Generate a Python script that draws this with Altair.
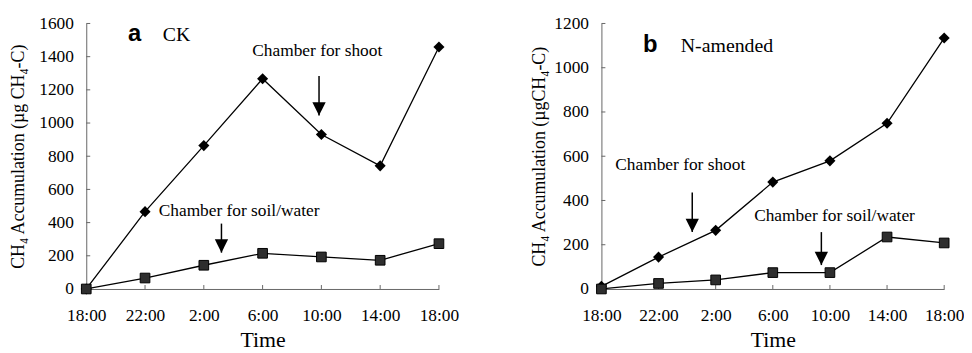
import json
import altair as alt
import pandas as pd

# ---------------- data ----------------
times = ["18:00", "22:00", "2:00", "6:00", "10:00", "14:00", "18:00"]
idx = [0, 1, 2, 3, 4, 5, 6]

ck_shoot = [0, 466, 864, 1267, 931, 742, 1458]
ck_soil = [0, 66, 143, 215, 193, 173, 273]
n_shoot = [12, 144, 265, 483, 579, 749, 1134]
n_soil = [0, 25, 41, 74, 74, 235, 208]

ck_yticks = [0, 200, 400, 600, 800, 1000, 1200, 1400, 1600]
n_yticks = [0, 200, 400, 600, 800, 1000, 1200]

# arrows: x position, tail value, tip value
ck_arrow_x = [3.96, 2.30]
ck_arrow_tail = [1284, 394]
ck_arrow_tip = [1045, 219]
n_arrow_x = [1.59, 3.85]
n_arrow_tail = [436, 257]
n_arrow_tip = [257, 108]

# annotation texts
ck_notes = ["Chamber  for shoot", "Chamber for soil/water"]
ck_note_x = [3.93, 2.60]
ck_note_y = [1403, 438]
n_notes = ["Chamber for shoot", "Chamber for soil/water"]
n_note_x = [1.38, 4.08]
n_note_y = [540, 305]

# panel labels
ck_letter, ck_name = "a", "CK"
ck_letter_x, ck_name_x, ck_label_y = 0.71, 1.30, 1493
n_letter, n_name = "b", "N-amended"
n_letter_x, n_name_x, n_label_y = 0.73, 1.39, 1071

SERIF = "Liberation Serif"
SANS = "Liberation Sans"
AXIS_COLOR = "#666666"
H = 268


def panel(shoot, soil, yticks, ymax, title, ax, atail, atip, notes, nx, ny,
          letter, letter_x, name, name_x, label_y, width, title_pad):
    label_arr = json.dumps(times)
    xscale = alt.Scale(domain=[0, 6], nice=False, zero=False)
    yscale = alt.Scale(domain=[0, ymax], nice=False)
    xaxis = alt.Axis(values=idx, ticks=False, grid=False, domainColor=AXIS_COLOR,
                     labelExpr=f"{label_arr}[datum.value]", labelFont=SERIF,
                     labelFontSize=17.5, labelColor="black", labelPadding=18,
                     labelFlush=False, labelOverlap=False, labelFontWeight="normal",
                     title="Time", titleFont=SERIF,
                     titleFontSize=22, titleFontWeight="normal", titleColor="black",
                     titlePadding=6)
    yaxis = alt.Axis(values=yticks, ticks=False, grid=False, domainColor=AXIS_COLOR,
                     format="d", labelFont=SERIF, labelFontSize=17.5, labelColor="black",
                     labelFontWeight="normal", labelFlush=False,
                     labelPadding=13, title=title, titleFont=SERIF, titleFontSize=18,
                     titleFontWeight="normal", titleColor="black",
                     titlePadding=title_pad)

    def X(f):
        return alt.X(f, type="quantitative", scale=xscale, axis=xaxis)

    def Y(f):
        return alt.Y(f, type="quantitative", scale=yscale, axis=yaxis)

    df = pd.DataFrame({
        "t": idx * 2,
        "v": shoot + soil,
        "s": ["shoot"] * 7 + ["soil"] * 7,
    })
    base = alt.Chart(df)
    lines = base.mark_line(color="black", strokeWidth=1.3).encode(
        x=X("t"), y=Y("v"), detail="s:N")
    dia = base.transform_filter("datum.s == 'shoot'").mark_point(
        shape="diamond", filled=True, color="black", size=125, opacity=1).encode(
        x=X("t"), y=Y("v"))
    sq = base.transform_filter("datum.s == 'soil'").mark_point(
        shape="square", filled=True, fill="#2e2e2e", stroke="black", strokeWidth=1,
        size=95, opacity=1).encode(x=X("t"), y=Y("v"))

    xt = alt.Chart(pd.DataFrame({"t": idx})).mark_rule(
        color=AXIS_COLOR, strokeWidth=1).encode(
        x=X("t"), y=alt.value(H), y2=alt.value(H - 4))
    yt = alt.Chart(pd.DataFrame({"v": yticks})).mark_rule(
        color=AXIS_COLOR, strokeWidth=1).encode(
        y=Y("v"), x=alt.value(0), x2=alt.value(4))

    adf = pd.DataFrame({"x": ax, "tail": atail, "tip": atip})
    shaft = alt.Chart(adf).mark_rule(color="black", strokeWidth=1.5).encode(
        x=X("x"), y=Y("tail"), y2="tip")
    head = alt.Chart(adf).mark_point(
        shape="M-1,-2L1,-2L0,0Z", filled=True, color="black", opacity=1,
        size=180).encode(x=X("x"), y=Y("tip"))

    ndf = pd.DataFrame({"x": nx, "y": ny, "text": notes})
    note = alt.Chart(ndf).mark_text(font=SERIF, fontSize=17.5, color="black",
                                    align="center", baseline="alphabetic").encode(
        x=X("x"), y=Y("y"), text="text")

    ldf = pd.DataFrame({"x": [letter_x], "y": [label_y], "text": [letter]})
    let = alt.Chart(ldf).mark_text(font=SANS, fontSize=24, fontWeight="bold",
                                   color="black", align="left",
                                   baseline="alphabetic").encode(
        x=X("x"), y=Y("y"), text="text")
    mdf = pd.DataFrame({"x": [name_x], "y": [label_y], "text": [name]})
    nm = alt.Chart(mdf).mark_text(font=SERIF, fontSize=20, color="black",
                                  align="left", baseline="alphabetic").encode(
        x=X("x"), y=Y("y"), text="text")

    return alt.layer(xt, yt, lines, dia, sq, shaft, head, note, let, nm).properties(
        width=width, height=H)


left = panel(ck_shoot, ck_soil, ck_yticks, 1600, "CH₄ Accumulation (µg CH₄-C)",
             ck_arrow_x, ck_arrow_tail, ck_arrow_tip, ck_notes, ck_note_x, ck_note_y,
             ck_letter, ck_letter_x, ck_name, ck_name_x, ck_label_y, 356, 11)
right = panel(n_shoot, n_soil, n_yticks, 1200, "CH₄ Accumulation (µgCH₄-C)",
              n_arrow_x, n_arrow_tail, n_arrow_tip, n_notes, n_note_x, n_note_y,
              n_letter, n_letter_x, n_name, n_name_x, n_label_y, 346, 5)

chart = alt.hconcat(left, right, spacing=73).properties(
    padding={"left": 2, "top": 5, "right": 0, "bottom": 0},
    background="white",
).configure_view(stroke=None).configure_axis(
    labelFont=SERIF, titleFont=SERIF, labelFontWeight="normal",
    titleFontWeight="normal", labelColor="black", titleColor="black",
).configure_text(font=SERIF)

chart.save("out.html", embed_options={"renderer": "svg", "actions": False})
